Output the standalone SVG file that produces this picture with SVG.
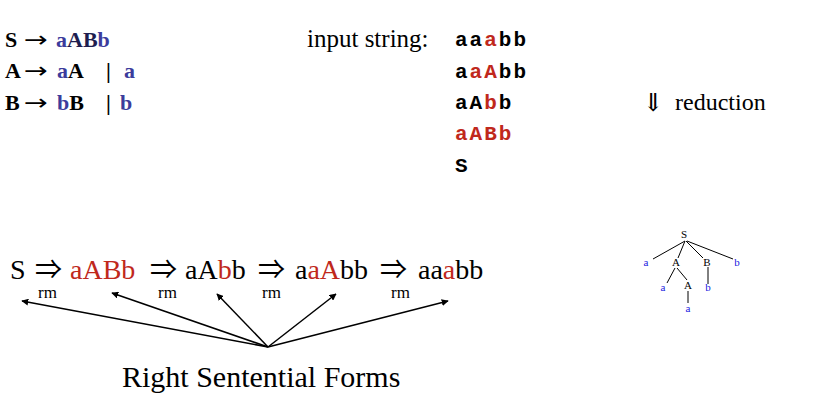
<svg xmlns="http://www.w3.org/2000/svg" width="814" height="407" viewBox="0 0 814 407">
<defs>
<style>
.g{font-family:"Liberation Serif","DejaVu Serif",serif;font-weight:bold;font-size:22px;fill:#000}
.ar{font-family:"DejaVu Sans",sans-serif;font-weight:normal}
.dr{font-family:"Noto Sans CJK JP","DejaVu Sans",sans-serif;font-weight:normal;font-size:27px;fill:#000}
.t{fill:#3c3c9c}
.n{fill:#1e1e50}
.s{font-family:"Liberation Serif","DejaVu Serif",serif;fill:#000}
.m{font-family:"Liberation Mono","DejaVu Sans Mono",monospace;font-weight:bold;font-size:21px;letter-spacing:2px;fill:#000}
.r{fill:#c0281c}
.big{font-size:28px}
.rm{font-size:17px}
.tl{font-family:"Liberation Serif","DejaVu Serif",serif;font-size:11px;text-anchor:middle;fill:#000}
.tb{fill:#2020e0}
.edge{stroke:#000;stroke-width:1.5;fill:none}
.tedge{stroke:#000;stroke-width:1;fill:none}
</style>
<marker id="ah" viewBox="0 0 10 10" refX="9" refY="5" markerWidth="7" markerHeight="7" orient="auto" markerUnits="userSpaceOnUse">
<path d="M0,0 L10,5 L0,10 z" fill="#000"/>
</marker>
</defs>
<rect width="814" height="407" fill="#fff"/>

<g id="grammar">
<text class="g" x="5" y="47">S</text>
<text class="g ar" font-size="22" transform="translate(24,47) scale(1.3,1)" font-weight="bold">→</text>
<text class="g" x="56" y="47"><tspan class="t">a</tspan><tspan class="n">AB</tspan><tspan class="t">b</tspan></text>
<text class="g" x="5" y="78">A</text>
<text class="g ar" font-size="22" transform="translate(24,78) scale(1.3,1)" font-weight="bold">→</text>
<text class="g" x="57" y="78"><tspan class="t">a</tspan>A<tspan x="106">|</tspan><tspan class="t" x="124">a</tspan></text>
<text class="g" x="5" y="110">B</text>
<text class="g ar" font-size="22" transform="translate(24,110) scale(1.3,1)" font-weight="bold">→</text>
<text class="g" x="57" y="110"><tspan class="t">b</tspan>B<tspan x="106">|</tspan><tspan class="t" x="120">b</tspan></text>
</g>

<g id="input">
<text class="s" x="307" y="47" font-size="25">input string:</text>
<text class="m" x="455" y="46">aa<tspan class="r">a</tspan>bb</text>
<text class="m" x="455" y="78">a<tspan class="r">aA</tspan>bb</text>
<text class="m" x="455" y="109">aA<tspan class="r">b</tspan>b</text>
<text class="m r" x="455" y="140">aABb</text>
<text class="m" x="455" y="172">S</text>
</g>

<g id="reduction">
<text class="s ar" x="643" y="111" font-size="25" fill="#202050">⇓</text>
<text class="s" x="675" y="110" font-size="24">reduction</text>
</g>

<g id="derivation">
<text class="s big" x="10" y="279">S</text>
<text class="dr" x="35" y="279">⇒</text>
<text class="s big r" x="70" y="279">aABb</text>
<text class="dr" x="150" y="279">⇒</text>
<text class="s big" x="185" y="279">aA<tspan class="r">b</tspan>b</text>
<text class="dr" x="258" y="279">⇒</text>
<text class="s big" x="295" y="279">a<tspan class="r">aA</tspan>bb</text>
<text class="dr" x="380" y="279">⇒</text>
<text class="s big" x="418" y="279">aa<tspan class="r">a</tspan>bb</text>
<text class="s rm" x="38" y="298">rm</text>
<text class="s rm" x="158" y="298">rm</text>
<text class="s rm" x="262" y="298">rm</text>
<text class="s rm" x="391" y="298">rm</text>
</g>

<g id="connectors">
<line class="edge" x1="268" y1="347" x2="22" y2="301" marker-end="url(#ah)"/>
<line class="edge" x1="268" y1="347" x2="112" y2="293" marker-end="url(#ah)"/>
<line class="edge" x1="268" y1="347" x2="217" y2="294" marker-end="url(#ah)"/>
<line class="edge" x1="268" y1="347" x2="336" y2="294" marker-end="url(#ah)"/>
<line class="edge" x1="268" y1="347" x2="448" y2="301" marker-end="url(#ah)"/>
</g>

<g id="label">
<text class="s" x="122" y="387" font-size="30">Right Sentential Forms</text>
</g>

<g id="tree">
<g id="tree-edges">
<line class="tedge" x1="685" y1="241" x2="653" y2="259"/>
<line class="tedge" x1="685" y1="241" x2="678" y2="258"/>
<line class="tedge" x1="686" y1="241" x2="703" y2="258"/>
<line class="tedge" x1="687" y1="241" x2="733" y2="259"/>
<line class="tedge" x1="675" y1="268" x2="667" y2="283"/>
<line class="tedge" x1="677" y1="268" x2="687" y2="280"/>
<line class="tedge" x1="708" y1="267" x2="708" y2="284"/>
<line class="tedge" x1="688" y1="291" x2="688" y2="303"/>
</g>
<text class="tl" x="684" y="238">S</text>
<text class="tl tb" x="646" y="266">a</text>
<text class="tl" x="676" y="266">A</text>
<text class="tl" x="707" y="266">B</text>
<text class="tl tb" x="737" y="266">b</text>
<text class="tl tb" x="663" y="291">a</text>
<text class="tl" x="688" y="289">A</text>
<text class="tl tb" x="708" y="291">b</text>
<text class="tl tb" x="688" y="312">a</text>
</g>
</svg>
